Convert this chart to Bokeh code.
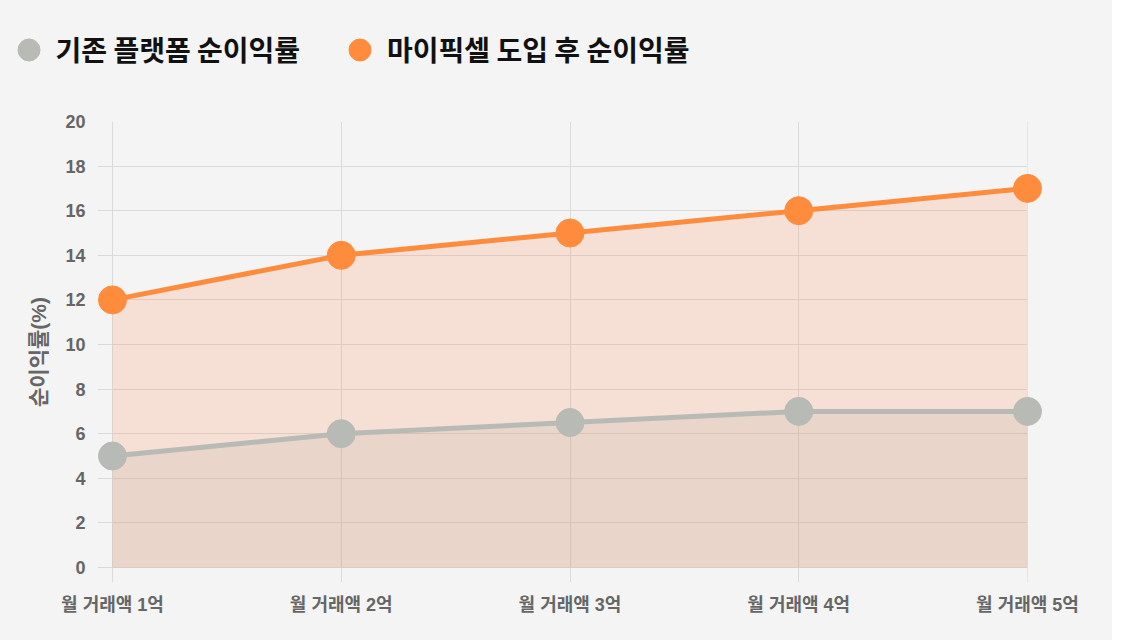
from bokeh.plotting import figure
from bokeh.layouts import column, row
from bokeh.models import (Range1d, FixedTicker, Legend, LegendItem, BoxAnnotation,
                          ColumnDataSource)
from bokeh.embed import file_html
from bokeh.resources import INLINE

# ---- data ----
categories = ["월 거래액 1억", "월 거래액 2억", "월 거래액 3억", "월 거래액 4억", "월 거래액 5억"]
x_pos = [1, 2, 3, 4, 5]
existing = [5, 6, 6.5, 7, 7]
mypixel = [12, 14, 15, 16, 17]
y_ticks = [0, 2, 4, 6, 8, 10, 12, 14, 16, 18, 20]
series_names = ["기존 플랫폼 순이익률", "마이픽셀 도입 후 순이익률"]
y_label = "순이익률(%)"

# ---- style ----
BG = "#f4f4f4"
GRID = "#dadada"
ORANGE = "#ff8c3c"
GRAY = "#b8bab5"
TICK_COLOR = "#666666"
FONT = "Liberation Sans, Noto Sans CJK KR"

W = 1112
LEG_FIG_H = 100
H = 640 - LEG_FIG_H
F_LEFT, F_RIGHT, F_TOP, F_BOTTOM = 97, 1042, 121, 582
x0_px, x5_px = 112, 1027
y0_px, y20_px = 567, 121
px_per_x = (x5_px - x0_px) / (x_pos[-1] - x_pos[0])
px_per_y = (y0_px - y20_px) / (y_ticks[-1] - y_ticks[0])
x_lo = x_pos[0] - (x0_px - F_LEFT) / px_per_x
x_hi = x_pos[-1] + (F_RIGHT - x5_px) / px_per_x
y_lo = y_ticks[0] - (F_BOTTOM - y0_px) / px_per_y
y_hi = y_ticks[-1]

src = ColumnDataSource(dict(x=x_pos, existing=existing, mypixel=mypixel))

# ---------- legend strip (data lies outside its ranges; only the legend shows) ----------
pl = figure(width=W, height=LEG_FIG_H, output_backend="svg", toolbar_location=None,
            x_range=Range1d(-1, 0), y_range=Range1d(-1, 0),
            x_axis_location=None, y_axis_location=None,
            min_border_left=0, min_border_right=0, min_border_top=0, min_border_bottom=0,
            min_border=0)
pl.background_fill_color = BG
pl.border_fill_color = BG
pl.outline_line_color = None
pl.xgrid.visible = False
pl.ygrid.visible = False
lg_gray = pl.scatter(x="x", y="existing", source=src, fill_color=GRAY, line_color=GRAY)
lg_orange = pl.scatter(x="x", y="mypixel", source=src, fill_color=ORANGE, line_color=ORANGE)

LEG_H = 55
legend = Legend(items=[LegendItem(label=series_names[0], renderers=[lg_gray]),
                       LegendItem(label=series_names[1], renderers=[lg_orange])],
                orientation="horizontal",
                location=(28 - LEG_H / 2, LEG_FIG_H - (49 + LEG_H / 2)),
                glyph_width=LEG_H, glyph_height=LEG_H, label_standoff=-6, spacing=32,
                padding=0, margin=0, border_line_alpha=0, background_fill_alpha=0,
                label_text_font="Noto Sans CJK KR", label_text_font_style="bold",
                label_text_font_size="28px", label_text_color="#111111")
pl.add_layout(legend, "center")

# ---------- main chart ----------
p = figure(width=W, height=H, output_backend="svg", toolbar_location=None,
           x_range=Range1d(x_lo, x_hi), y_range=Range1d(y_lo, y_hi),
           min_border_left=F_LEFT, min_border_right=W - F_RIGHT,
           min_border_top=F_TOP - LEG_FIG_H, min_border_bottom=640 - F_BOTTOM)
p.background_fill_color = BG
p.border_fill_color = BG
p.outline_line_color = None

p.varea(x="x", y1=0, y2="mypixel", source=src, fill_color="#ff8c5a", fill_alpha=0.2)
p.varea(x="x", y1=0, y2="existing", source=src, fill_color="#b8b09c", fill_alpha=0.2)

mask = BoxAnnotation(left=x_pos[-1], fill_color=BG, fill_alpha=1.0, line_alpha=0,
                     level="underlay")
p.add_layout(mask)

p.line(x="x", y="existing", source=src, line_color=GRAY, line_width=5)
p.line(x="x", y="mypixel", source=src, line_color=ORANGE, line_width=5)
p.scatter(x="x", y="existing", source=src, size=28, fill_color=GRAY, line_color=GRAY)
p.scatter(x="x", y="mypixel", source=src, size=28, fill_color=ORANGE, line_color=ORANGE)

p.xaxis.ticker = FixedTicker(ticks=x_pos)
p.xaxis.major_label_overrides = {x: c for x, c in zip(x_pos, categories)}
p.yaxis.ticker = FixedTicker(ticks=y_ticks)
for ax in (p.xaxis[0], p.yaxis[0]):
    ax.axis_line_color = None
    ax.major_tick_line_color = None
    ax.minor_tick_line_color = None
    ax.major_label_text_color = TICK_COLOR
    ax.major_label_text_font = FONT
    ax.major_label_text_font_style = "bold"
    ax.major_label_text_font_size = "18px"
    ax.major_label_standoff = 6
p.yaxis.axis_label = y_label
p.yaxis.axis_label_text_font = FONT
p.yaxis.axis_label_text_font_style = "bold"
p.yaxis.axis_label_text_font_size = "21px"
p.yaxis.axis_label_text_color = TICK_COLOR
p.yaxis.axis_label_standoff = 12

p.xgrid.ticker = FixedTicker(ticks=x_pos)
p.ygrid.ticker = FixedTicker(ticks=y_ticks)
p.grid.grid_line_color = GRID
p.grid.grid_line_width = 1

layout = column(row(pl), row(p), spacing=0, styles={"background-color": BG})
open("out.html", "w").write(file_html(layout, INLINE))
